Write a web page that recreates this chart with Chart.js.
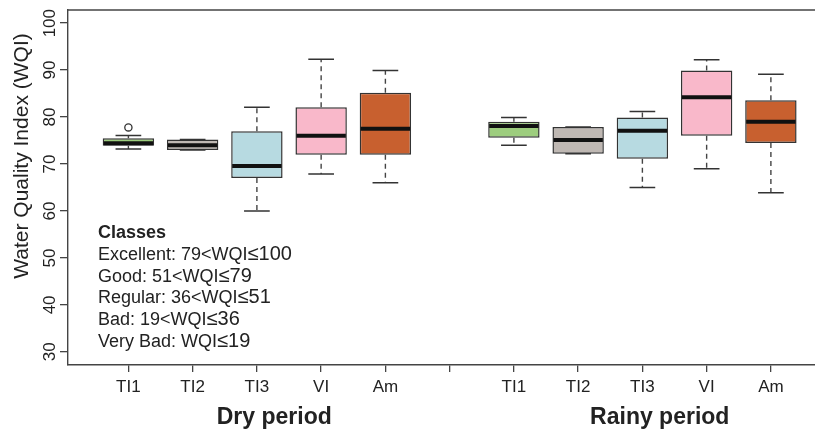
<!DOCTYPE html>
<html>
<head>
<meta charset="utf-8">
<script src="https://cdn.jsdelivr.net/npm/chart.js@4.4.1/dist/chart.umd.min.js"></script>
<style>
  html, body { margin: 0; padding: 0; background: #ffffff; overflow: hidden; width: 815px; height: 431px; }
  canvas { display: block; }
</style>
</head>
<body>
<canvas id="c" width="830" height="431"></canvas>
<script>
// ---------------- data ----------------
const categories   = ['TI1', 'TI2', 'TI3', 'VI', 'Am'];
const periods      = ['Dry period', 'Rainy period'];
const xPositions   = [1, 2, 3, 4, 5, 7, 8, 9, 10, 11];
const xTickValues  = [1, 2, 3, 4, 5, 6, 7, 8, 9, 10, 11];
const xTickLabels  = ['TI1', 'TI2', 'TI3', 'VI', 'Am', '', 'TI1', 'TI2', 'TI3', 'VI', 'Am'];
const whiskerLow   = [73.2, 73.0, 60.0, 67.9, 66.0, 74.0, 72.2, 65.0, 69.0, 63.9];
const quart1       = [73.9, 73.0, 67.0, 72.0, 72.0, 75.6, 72.2, 71.1, 76.0, 74.5];
const medians      = [74.4, 74.0, 69.6, 76.0, 77.5, 78.1, 75.1, 77.1, 84.2, 79.0];
const quart3       = [75.5, 75.2, 77.0, 82.1, 85.2, 79.0, 77.9, 79.9, 89.9, 83.6];
const whiskerHigh  = [76.1, 75.2, 82.1, 92.3, 89.9, 79.9, 77.9, 81.2, 92.2, 89.1];
const outlierX     = [1];
const outlierY     = [77.8];
const yTickValues  = [30, 40, 50, 60, 70, 80, 90, 100];
const yTitle       = 'Water Quality Index (WQI)';
const classTitle   = 'Classes';
const classText    = ['Excellent: 79<WQI', 'Good: 51<WQI', 'Regular: 36<WQI', 'Bad: 19<WQI', 'Very Bad: WQI'];
const classLimit   = ['\u2264100', '\u226479', '\u226451', '\u226436', '\u226419'];
const boxColors    = ['#9dcd7e', '#bfb8b3', '#b7dae1', '#f9b8ca', '#c8602f'];

// ---------------- chart ----------------
const FONT = '"Liberation Sans", Arial, Helvetica, sans-serif';
const AXIS = '#444444';
const TEXT = '#222222';

const extras = {
  id: 'extras',
  afterDatasetsDraw(chart) {
    const { ctx } = chart;
    const x = chart.scales.x;
    const y = chart.scales.y;
    const meta = chart.getDatasetMeta(0);
    meta.data.forEach((bar, i) => {
      const cx = bar.x;
      const half = bar.width / 2;
      const capHalf = bar.width / 4;
      const pLo = y.getPixelForValue(whiskerLow[i]);
      const pQ1 = y.getPixelForValue(quart1[i]);
      const pMed = y.getPixelForValue(medians[i]);
      const pQ3 = y.getPixelForValue(quart3[i]);
      const pHi = y.getPixelForValue(whiskerHigh[i]);
      ctx.save();
      ctx.strokeStyle = AXIS;
      ctx.lineWidth = 1.4;
      ctx.setLineDash([5, 4]);
      ctx.beginPath();
      ctx.moveTo(cx, pQ3); ctx.lineTo(cx, pHi);
      ctx.moveTo(cx, pQ1); ctx.lineTo(cx, pLo);
      ctx.stroke();
      ctx.setLineDash([]);
      ctx.strokeStyle = '#333333';
      ctx.lineWidth = 1.5;
      ctx.beginPath();
      ctx.moveTo(cx - capHalf, pHi); ctx.lineTo(cx + capHalf, pHi);
      ctx.moveTo(cx - capHalf, pLo); ctx.lineTo(cx + capHalf, pLo);
      ctx.stroke();
      ctx.strokeStyle = '#111111';
      ctx.lineWidth = 4;
      ctx.beginPath();
      ctx.moveTo(cx - half + 1, pMed); ctx.lineTo(cx + half - 1, pMed);
      ctx.stroke();
      ctx.restore();
    });
    // outliers
    ctx.save();
    ctx.strokeStyle = '#333333';
    ctx.fillStyle = '#ffffff';
    ctx.lineWidth = 1.3;
    outlierX.forEach((ox, i) => {
      ctx.beginPath();
      ctx.arc(x.getPixelForValue(ox), y.getPixelForValue(outlierY[i]), 3.6, 0, Math.PI * 2);
      ctx.fill();
      ctx.stroke();
    });
    ctx.restore();
  },
  afterDraw(chart, args, opts) {
    const { ctx, chartArea } = chart;
    const x = chart.scales.x;
    const y = chart.scales.y;
    ctx.save();
    // top frame line
    ctx.strokeStyle = AXIS;
    ctx.lineWidth = 1.4;
    ctx.beginPath();
    ctx.moveTo(chartArea.left, chartArea.top);
    ctx.lineTo(chartArea.right, chartArea.top);
    ctx.stroke();

    // rotated y tick labels
    ctx.fillStyle = TEXT;
    ctx.font = '17px ' + FONT;
    ctx.textAlign = 'center';
    ctx.textBaseline = 'alphabetic';
    yTickValues.forEach(v => {
      ctx.save();
      ctx.translate(opts.yLabelX, y.getPixelForValue(v));
      ctx.rotate(-Math.PI / 2);
      ctx.fillText(String(v), 0, 0);
      ctx.restore();
    });

    // y title
    ctx.save();
    ctx.font = opts.yTitleFont + 'px ' + FONT;
    ctx.translate(opts.yTitleX, opts.yTitleY);
    ctx.rotate(-Math.PI / 2);
    ctx.fillText(yTitle, 0, 0);
    ctx.restore();

    // period labels
    ctx.font = 'bold 23px ' + FONT;
    ctx.textAlign = 'center';
    periods.forEach((p, i) => {
      ctx.fillText(p, x.getPixelForValue(opts.periodAt[i]), opts.periodY);
    });

    // classes legend
    ctx.textAlign = 'left';
    ctx.font = 'bold 18px ' + FONT;
    ctx.fillText(classTitle, opts.legendX, opts.legendY);
    classText.forEach((t, i) => {
      const by = opts.legendY + opts.legendStep * (i + 1);
      ctx.font = '18px ' + FONT;
      ctx.fillText(t, opts.legendX, by);
      const w = ctx.measureText(t).width;
      ctx.font = '20px ' + FONT;
      ctx.fillText(classLimit[i], opts.legendX + w, by);
    });
    ctx.restore();
  }
};

new Chart(document.getElementById('c'), {
  type: 'bar',
  data: {
    datasets: [
      {
        type: 'bar',
        data: xPositions.map((px, i) => ({ x: px, y: [quart1[i], quart3[i]] })),
        backgroundColor: xPositions.map((px, i) => boxColors[i % categories.length]),
        borderColor: '#333333',
        borderWidth: 1.5,
        borderSkipped: false,
        barPercentage: 0.8,
        categoryPercentage: 1.0
      }
    ]
  },
  options: {
    responsive: false,
    devicePixelRatio: 1,
    animation: false,
    layout: { autoPadding: false, padding: { top: 10, right: 0, bottom: 0, left: 0 } },
    plugins: {
      legend: { display: false },
      tooltip: { enabled: false },
      extras: {
        yLabelX: 55, yTitleX: 28, yTitleY: 156, yTitleFont: 21,
        periodAt: [3.27, 9.27], periodY: 424,
        legendX: 98, legendY: 238, legendStep: 21.8
      }
    },
    scales: {
      x: {
        type: 'linear',
        offset: false,
        min: 0.06,
        max: 11.92,
        afterBuildTicks: s => { s.ticks = xTickValues.map(v => ({ value: v })); },
        afterFit: s => { s.height = 66; s.paddingRight = 0; s.paddingLeft = 0; },
        grid: { offset: false, drawOnChartArea: false, drawTicks: true, tickLength: 7, color: AXIS, lineWidth: 1.3 },
        border: { display: true, color: AXIS, width: 1.4 },
        ticks: {
          autoSkip: false, maxRotation: 0, minRotation: 0, padding: 5,
          color: TEXT, font: { family: FONT, size: 17 },
          callback: v => { const k = xTickValues.indexOf(v); return k >= 0 ? xTickLabels[k] : ''; }
        }
      },
      y: {
        type: 'linear',
        min: 27.2,
        max: 102.8,
        afterBuildTicks: s => { s.ticks = yTickValues.map(v => ({ value: v })); },
        afterFit: s => { s.width = 68; },
        grid: { drawOnChartArea: false, drawTicks: true, tickLength: 8, color: AXIS, lineWidth: 1.3 },
        border: { display: true, color: AXIS, width: 1.4 },
        ticks: { display: false }
      }
    }
  },
  plugins: [extras]
});
</script>
</body>
</html>
